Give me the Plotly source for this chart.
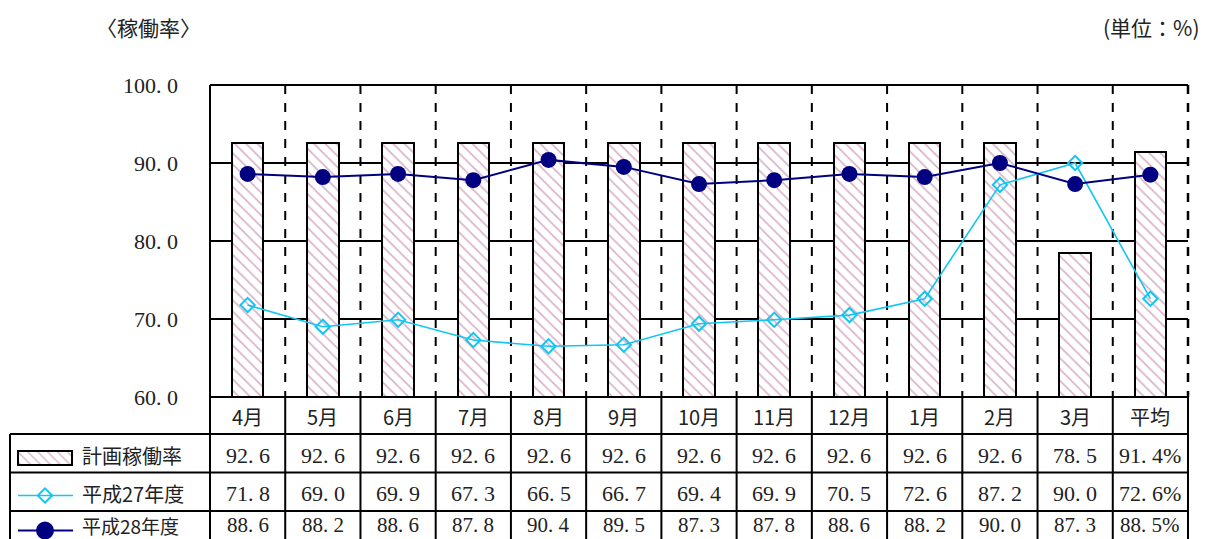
import plotly.graph_objects as go

# Monthly operating-rate data (%)
months = ["4月", "5月", "6月", "7月", "8月", "9月", "10月", "11月", "12月", "1月", "2月", "3月", "平均"]
plan_rate = [92.6, 92.6, 92.6, 92.6, 92.6, 92.6, 92.6, 92.6, 92.6, 92.6, 92.6, 78.5, 91.4]
h27_rate = [71.8, 69.0, 69.9, 67.3, 66.5, 66.7, 69.4, 69.9, 70.5, 72.6, 87.2, 90.0, 72.6]
h28_rate = [88.6, 88.2, 88.6, 87.8, 90.4, 89.5, 87.3, 87.8, 88.6, 88.2, 90.0, 87.3, 88.5]
y_ticks = [60, 70, 80, 90, 100]
row_names = ["計画稼働率", "平成27年度", "平成28年度"]

W, H = 1208, 539
PX_L, PX_R, PX_T, PX_B = 210, 1188, 85, 397   # plot area in pixels

def xp(p):
    return p / W

def yp(p):
    return (H - p) / H

NUM_FONT = "Liberation Serif, Noto Sans CJK JP, serif"
CJK_FONT = "Noto Sans CJK JP, Liberation Serif, serif"
TEXT_COLOR = "#222"
NAVY = "#000080"
CYAN = "#12c6f2"
HATCH = "#b2638f"

idx = list(range(len(months)))
n = len(months)

fig = go.Figure()

fig.add_trace(go.Bar(
    x=idx, y=plan_rate, base=0, width=0.42,
    marker=dict(color="white", line=dict(color="black", width=2),
                pattern=dict(shape="\\", fgcolor=HATCH, bgcolor="white", size=8, solidity=0.2)),
    name=row_names[0], showlegend=False, cliponaxis=True,
))
fig.add_trace(go.Scatter(
    x=idx, y=h27_rate, mode="lines+markers", name=row_names[1], showlegend=False,
    line=dict(color=CYAN, width=1.6),
    marker=dict(symbol="diamond-open", size=11, color=CYAN, line=dict(width=2, color=CYAN)),
))
fig.add_trace(go.Scatter(
    x=idx, y=h28_rate, mode="lines+markers", name=row_names[2], showlegend=False,
    line=dict(color=NAVY, width=2),
    marker=dict(symbol="circle", size=16, color=NAVY),
))

# Legend symbols in the table's left column (pixel-unit axes)
LEG_Y = [458, 495.5, 530.5]
fig.add_trace(go.Bar(
    x=[54], y=[LEG_Y[0]], base=[18], width=[14], orientation="h", xaxis="x2", yaxis="y2",
    marker=dict(color="white", line=dict(color="black", width=2),
                pattern=dict(shape="\\", fgcolor=HATCH, bgcolor="white", size=7, solidity=0.2)),
    showlegend=False, hoverinfo="skip",
))
for yv, col, lw, sym, size in [(LEG_Y[1], CYAN, 1.6, "diamond-open", 11),
                                (LEG_Y[2], NAVY, 2, "circle", 16)]:
    fig.add_trace(go.Scatter(
        x=[18, 73], y=[yv, yv], mode="lines", xaxis="x2", yaxis="y2",
        line=dict(color=col, width=lw), showlegend=False, hoverinfo="skip",
    ))
    fig.add_trace(go.Scatter(
        x=[45], y=[yv], mode="markers", xaxis="x2", yaxis="y2",
        marker=dict(symbol=sym, size=size, color=col, line=dict(width=2, color=col)),
        showlegend=False, hoverinfo="skip", cliponaxis=False,
    ))

shapes = []
def line(x0, y0, x1, y1, width=2, dash="solid"):
    shapes.append(dict(type="line", xref="paper", yref="paper",
                       x0=xp(x0), y0=yp(y0), x1=xp(x1), y1=yp(y1),
                       line=dict(color="black", width=width, dash=dash), layer="above"))

def cat_edge(i):
    return PX_L + (PX_R - PX_L) * i / n

# Dashed separators between categories inside the plot
for i in range(1, n):
    shapes.append(dict(type="line", xref="paper", yref="paper",
                       x0=xp(cat_edge(i)), x1=xp(cat_edge(i)), y0=yp(PX_T), y1=yp(PX_B),
                       line=dict(color="black", width=2, dash="dash"), layer="below"))

# Plot frame
line(PX_L, PX_T, PX_R, PX_T)
line(PX_L, PX_T, PX_L, H + 5)
line(PX_L, PX_B, PX_R, PX_B)
line(PX_R, PX_T, PX_R, PX_B, width=2.5, dash="dash")

# Data table grid
ROWS = [434, 472.5, 511]
for ry in ROWS:
    line(10, ry, PX_R, ry)
line(10, ROWS[0], 10, H + 5)
line(PX_R, PX_B, PX_R, H + 5)
for i in range(1, n):
    line(cat_edge(i), PX_B, cat_edge(i), H + 5)

annotations = []
def text(x, y, s, font, size=20, anchor="center"):
    annotations.append(dict(xref="paper", yref="paper", x=xp(x), y=yp(y), text=s,
                            showarrow=False, xanchor=anchor, yanchor="middle",
                            font=dict(family=font, size=size, color=TEXT_COLOR)))

def fmt(v):
    return f"{v:.1f}".replace(".", ". ")

row_y = [416, 455, 493, 525]
for i in range(n):
    cx = (cat_edge(i) + cat_edge(i + 1)) / 2
    text(cx, row_y[0], months[i], CJK_FONT, 20)
    suffix = "%" if i == n - 1 else ""
    text(cx, row_y[1], fmt(plan_rate[i]) + suffix, NUM_FONT, 22)
    text(cx, row_y[2], fmt(h27_rate[i]) + suffix, NUM_FONT, 22)
    text(cx, row_y[3], fmt(h28_rate[i]) + suffix, NUM_FONT, 21)

for name, y in zip(row_names, row_y[1:]):
    text(80, y, name, CJK_FONT, 20 if y < 510 else 19, anchor="left")

text(148, 27, "〈稼働率〉", CJK_FONT, 21)
text(1202, 27, "(単位：%)", CJK_FONT, 21, anchor="right")

fig.update_layout(
    width=W, height=H,
    autosize=False,
    margin=dict(l=0, r=0, t=0, b=0, pad=0, autoexpand=False),
    paper_bgcolor="white", plot_bgcolor="white",
    showlegend=False,
    bargap=0,
    xaxis=dict(domain=[xp(PX_L), xp(PX_R)], range=[-0.5, n - 0.5], automargin=False,
               showticklabels=False, showgrid=False, zeroline=False, ticks=""),
    yaxis=dict(domain=[yp(PX_B), yp(PX_T)], range=[60, 100], automargin=False,
               tickvals=y_ticks, ticktext=[fmt(v) for v in y_ticks],
               tickfont=dict(family=NUM_FONT, size=22, color=TEXT_COLOR),
               ticks="", ticklabelstandoff=31,
               showgrid=True, gridcolor="black", gridwidth=2, zeroline=False),
    xaxis2=dict(domain=[xp(10), xp(210)], range=[10, 210], visible=False, anchor="y2", automargin=False),
    yaxis2=dict(domain=[0, yp(434)], range=[H, 434], visible=False, anchor="x2", automargin=False),
    shapes=shapes,
    annotations=annotations,
)

fig.write_html("out.html")
